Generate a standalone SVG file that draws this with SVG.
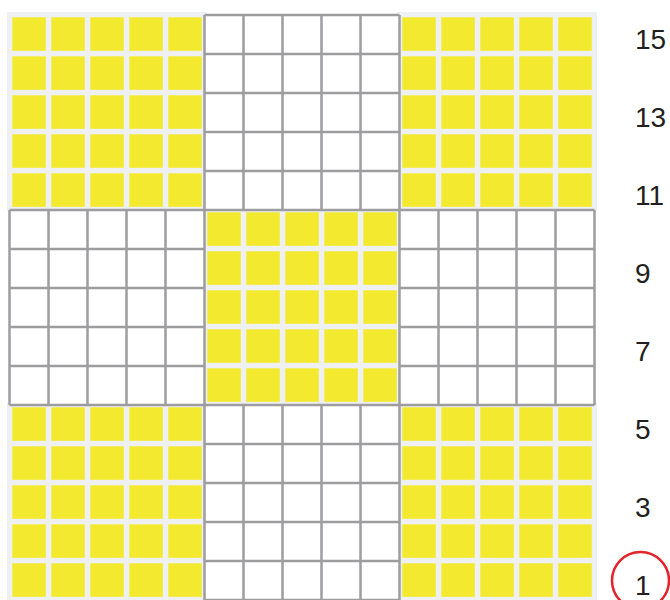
<svg xmlns="http://www.w3.org/2000/svg" xmlns:xlink="http://www.w3.org/1999/xlink" width="670" height="600" viewBox="0 0 670 600">
<style>
.bg{fill:#eff0f2}
.sq{fill:#f3ea2f}
.gl{fill:none;stroke:#9d9da0;stroke-width:2.5}
.lbl{font-family:"Liberation Sans",Arial,sans-serif;font-size:28px;fill:#231f20}
.mark{fill:none;stroke:#e3242b;stroke-width:2.5}
</style>
<defs>
<g id="yblock">
<rect class="bg" x="-2.5" y="-3" width="200" height="199"/>
<g id="yrow">
<rect class="sq" x="2.8" y="2.3" width="33.5" height="33.5"/>
<rect class="sq" x="41.8" y="2.3" width="33.5" height="33.5"/>
<rect class="sq" x="80.8" y="2.3" width="33.5" height="33.5"/>
<rect class="sq" x="119.8" y="2.3" width="33.5" height="33.5"/>
<rect class="sq" x="158.8" y="2.3" width="33.5" height="33.5"/>
</g>
<use xlink:href="#yrow" y="39"/>
<use xlink:href="#yrow" y="78"/>
<use xlink:href="#yrow" y="117"/>
<use xlink:href="#yrow" y="156"/>
</g>
<g id="wblock">
<rect x="0" y="0" width="195" height="195" fill="#ffffff"/>
<path class="gl" d="M0 0V195M39 0V195M78 0V195M117 0V195M156 0V195M195 0V195M0 0H195M0 39H195M0 78H195M0 117H195M0 156H195M0 195H195"/>
</g>
</defs>
<g id="block-top-left"><use xlink:href="#yblock" x="9.5" y="15"/></g>
<g id="block-top-right"><use xlink:href="#yblock" x="399.5" y="15"/></g>
<g id="block-middle"><use xlink:href="#yblock" x="204.5" y="210"/></g>
<g id="block-bottom-left"><use xlink:href="#yblock" x="9.5" y="405"/></g>
<g id="block-bottom-right"><use xlink:href="#yblock" x="399.5" y="405"/></g>
<g id="block-top-middle"><use xlink:href="#wblock" x="204.5" y="15"/></g>
<g id="block-middle-left"><use xlink:href="#wblock" x="9.5" y="210"/></g>
<g id="block-middle-right"><use xlink:href="#wblock" x="399.5" y="210"/></g>
<g id="block-bottom-middle"><use xlink:href="#wblock" x="204.5" y="405"/></g>
<g id="labels">
<text class="lbl" x="635" y="48.5">15</text>
<text class="lbl" x="635" y="126.5">13</text>
<text class="lbl" x="635" y="204.5">11</text>
<text class="lbl" x="635" y="282.5">9</text>
<text class="lbl" x="635" y="360.5">7</text>
<text class="lbl" x="635" y="438.5">5</text>
<text class="lbl" x="635" y="516.5">3</text>
<text class="lbl" x="635" y="594.5">1</text>
</g>
<g id="connectors"><circle class="mark" cx="640.5" cy="580.5" r="28.5"/></g>
</svg>
